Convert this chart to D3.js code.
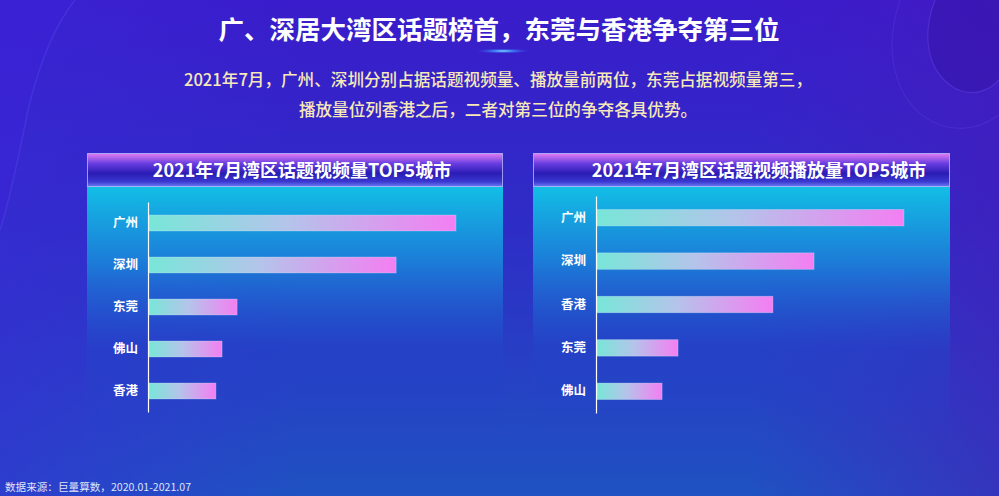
<!DOCTYPE html>
<html><head><meta charset="utf-8">
<script src="https://cdn.jsdelivr.net/npm/d3@7"></script>
<style>
html,body{margin:0;padding:0;background:#2a2cc4;}
svg{display:block;}
text{font-family:"Noto Sans CJK SC","Noto Sans",sans-serif;}
</style></head>
<body>
<script>
const title = "广、深居大湾区话题榜首，东莞与香港争夺第三位";
const subtitleLines = ["2021年7月，广州、深圳分别占据话题视频量、播放量前两位，东莞占据视频量第三，",
  "播放量位列香港之后，二者对第三位的争夺各具优势。"];
const source = "数据来源：巨量算数，2020.01-2021.07";

const leftTitle = "2021年7月湾区话题视频量TOP5城市";
const leftCities = ["广州","深圳","东莞","佛山","香港"];
const leftValues = [100, 80.5, 28.7, 23.8, 21.8];

const rightTitle = "2021年7月湾区话题视频播放量TOP5城市";
const rightCities = ["广州","深圳","香港","东莞","佛山"];
const rightValues = [100, 70.7, 57.3, 26.4, 21.2];

const W = 999, H = 496;
const svg = d3.select("body").append("svg").attr("width", W).attr("height", H);
const defs = svg.append("defs");

// background
const bg = defs.append("linearGradient").attr("id","bg").attr("x1",0).attr("y1",0).attr("x2",0).attr("y2",1);
bg.append("stop").attr("offset","0%").attr("stop-color","#3a1ccb");
bg.append("stop").attr("offset","45%").attr("stop-color","#2e2cc6");
bg.append("stop").attr("offset","100%").attr("stop-color","#1f52c2");
svg.append("rect").attr("width",W).attr("height",H).attr("fill","url(#bg)");

const bgSide = defs.append("linearGradient").attr("id","bgside").attr("x1",0).attr("y1",0).attr("x2",1).attr("y2",0);
bgSide.append("stop").attr("offset","0%").attr("stop-color","#3a2ad8").attr("stop-opacity",0.5);
bgSide.append("stop").attr("offset","30%").attr("stop-color","#3a2ad8").attr("stop-opacity",0);
bgSide.append("stop").attr("offset","75%").attr("stop-color","#4a1cc0").attr("stop-opacity",0);
bgSide.append("stop").attr("offset","100%").attr("stop-color","#4a18b8").attr("stop-opacity",0.5);
svg.append("rect").attr("width",W).attr("height",H).attr("fill","url(#bgside)");

// decorative curves
svg.append("path").attr("d","M0,0 L75,0 C55,25 40,60 28,110 C20,150 10,200 0,230 Z")
  .attr("fill","#3c22d8").attr("opacity",0.45);
svg.append("path").attr("d","M75,0 C55,25 40,60 28,110 C20,150 10,200 0,230")
  .attr("fill","none").attr("stroke","#5a4cf0").attr("stroke-opacity",0.35).attr("stroke-width",1.5);
svg.append("path").attr("d","M999,0 L935,0 C920,40 930,70 950,85 C970,100 990,90 999,80 Z")
  .attr("fill","#3414a8").attr("opacity",0.5);
svg.append("path").attr("d","M935,0 C920,40 930,70 950,85 C970,100 990,90 999,80")
  .attr("fill","none").attr("stroke","#6a4ae8").attr("stroke-opacity",0.4).attr("stroke-width",1.2);
svg.append("path").attr("d","M900,0 C880,60 900,110 940,125 C965,133 985,125 999,115")
  .attr("fill","none").attr("stroke","#6a4ae8").attr("stroke-opacity",0.25).attr("stroke-width",1.2);

// title
svg.append("text").attr("x",499).attr("y",39).attr("text-anchor","middle")
  .attr("font-size",25.5).attr("font-weight",700).attr("fill","#ffffff").text(title);
const glow = defs.append("radialGradient").attr("id","glow");
glow.append("stop").attr("offset","0%").attr("stop-color","#9fe8ff").attr("stop-opacity",1);
glow.append("stop").attr("offset","40%").attr("stop-color","#3fa0ff").attr("stop-opacity",0.7);
glow.append("stop").attr("offset","100%").attr("stop-color","#3f60ff").attr("stop-opacity",0);
svg.append("ellipse").attr("cx",503).attr("cy",51).attr("rx",26).attr("ry",2.5).attr("fill","url(#glow)");

svg.selectAll("text.sub").data(subtitleLines).join("text").attr("class","sub")
  .attr("x",498).attr("y",(d,i)=>86 + i*30).attr("text-anchor","middle")
  .attr("font-size",16.6).attr("font-weight",500).attr("fill","#f7e8b8").text(d=>d);

svg.append("text").attr("x",5).attr("y",491).attr("font-size",10.6).attr("fill","#dfe4f8").text(source);

// panel gradients
const hdr = defs.append("linearGradient").attr("id","hdr").attr("x1",0).attr("y1",0).attr("x2",0).attr("y2",1);
hdr.append("stop").attr("offset","0%").attr("stop-color","#e27cf2");
hdr.append("stop").attr("offset","30%").attr("stop-color","#6a3ee0");
hdr.append("stop").attr("offset","60%").attr("stop-color","#2a1cb4");
hdr.append("stop").attr("offset","85%").attr("stop-color","#3a38d0");
hdr.append("stop").attr("offset","100%").attr("stop-color","#6a7af0");

const body = defs.append("linearGradient").attr("id","pbody").attr("x1",0).attr("y1",0).attr("x2",0).attr("y2",1);
body.append("stop").attr("offset","0%").attr("stop-color","#12bfe6").attr("stop-opacity",1);
body.append("stop").attr("offset","30%").attr("stop-color","#1a86da").attr("stop-opacity",0.9);
body.append("stop").attr("offset","65%").attr("stop-color","#2244c8").attr("stop-opacity",0.5);
body.append("stop").attr("offset","100%").attr("stop-color","#2244c8").attr("stop-opacity",0);

const barG = defs.append("linearGradient").attr("id","barg").attr("x1",0).attr("y1",0).attr("x2",1).attr("y2",0);
barG.append("stop").attr("offset","0%").attr("stop-color","#78e6d8");
barG.append("stop").attr("offset","45%").attr("stop-color","#b4c4ea");
barG.append("stop").attr("offset","100%").attr("stop-color","#f47ef2");

function panel(cfg){
  const g = svg.append("g");
  g.append("rect").attr("x",cfg.px).attr("y",186).attr("width",cfg.pw).attr("height",250).attr("fill","url(#pbody)");
  g.append("rect").attr("x",cfg.px+0.5).attr("y",153.5).attr("width",cfg.pw-1).attr("height",33)
    .attr("fill","url(#hdr)").attr("stroke","#b8b8ff").attr("stroke-opacity",0.8).attr("stroke-width",1);
  g.append("text").attr("x",cfg.tx).attr("y",177).attr("text-anchor","middle")
    .attr("font-size",18).attr("font-weight",700).attr("fill","#ffffff").text(cfg.title);

  const y = d3.scaleBand().domain(cfg.cities).range([cfg.y0, cfg.y1]).paddingInner(0.62).paddingOuter(0.31);
  const x = d3.scaleLinear().domain([0, 100]).range([cfg.ax + 1, cfg.xmax]);

  g.selectAll("rect.bar").data(cfg.values).join("rect").attr("class","bar")
    .attr("x", x(0)).attr("y",(d,i)=>y(cfg.cities[i]))
    .attr("width", d=>x(d)-x(0)).attr("height", y.bandwidth())
    .attr("fill","url(#barg)").attr("stroke","#d8f0ff").attr("stroke-opacity",0.35).attr("stroke-width",0.8);

  const axis = g.append("g").attr("transform",`translate(${cfg.ax},0)`)
    .call(d3.axisLeft(y).tickSize(0).tickPadding(10));
  axis.select(".domain").attr("stroke","#ffffff").attr("stroke-width",1.2);
  axis.selectAll("text").attr("fill","#ffffff").attr("font-size",12.5).attr("font-weight",700)
    .attr("font-family",'"Noto Sans CJK SC",sans-serif');
}

panel({px:87, pw:416, tx:302, title:leftTitle, cities:leftCities, values:leftValues,
  y0:202, y1:412, ax:148, xmax:456});
panel({px:533, pw:417, tx:759, title:rightTitle, cities:rightCities, values:rightValues,
  y0:196, y1:413, ax:596, xmax:904});
</script>
</body></html>
